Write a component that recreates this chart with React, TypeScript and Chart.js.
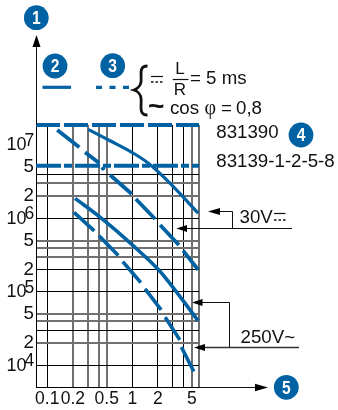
import React, { useEffect, useRef } from "react";
import { Chart, registerables } from "chart.js";

Chart.register(...registerables);

const xGrid = [0.1, 0.2, 0.3, 0.4, 0.5, 1, 2, 3, 4, 5, 6];
const xLabelled = [0.1, 0.2, 0.5, 1, 2, 5];
const xSoft = [0.2, 0.3, 0.4, 0.5, 5, 6];

const yGrid = [1e7, 4e6, 3e6, 2e6, 1e6, 5e5, 4e5, 3e5, 2e5, 1e5, 5e4, 4e4, 3e4, 2e4, 1e4];
const yTwoFive = [5e6, 2e6, 5e5, 2e5, 5e4, 2e4];
const yDecades = [7, 6, 5, 4];
const ySoft = [3e6, 2e6, 5e5, 4e5, 3e5, 5e4, 4e4, 2e4];

const topLimit = 1.873e7;
const fiveLevel = 5.2e6;

const curveAx = [0.301, 0.547, 1.03, 1.53, 2.78, 5.93];
const curveAy = [1.635e7, 1.144e7, 7.71e6, 5.69e6, 3.01e6, 1.18e6];

const curveBx = [0.131, 0.238, 0.25, 0.278, 0.406, 0.42, 0.44, 0.465, 0.5, 0.547, 0.984, 1.04, 1.1, 1.85, 2.0, 2.12, 3.52, 3.7, 3.95, 5.93];
const curveBy = [1.6e7, 9.3e6, null, 7.96e6, 5.69e6, null, 5.0e6, 4.57e6, null, 3.91e6, 2.15e6, null, 1.84e6, 9.84e5, null, 8.16e5, 4.36e5, null, 3.65e5, 2.0e5];

const curveCx = [0.212, 0.417, 1.03, 2.12, 2.63, 4.13, 5.93];
const curveCy = [1.88e6, 1.04e6, 4.23e5, 1.9e5, 1.4e5, 7.08e4, 4.03e4];

const curveDx = [0.206, 0.357, 0.38, 0.406, 0.684, 0.72, 0.771, 1.256, 1.33, 1.41, 2.18, 2.3, 2.43, 3.61, 3.7, 3.77, 5.27];
const curveDy = [1.21e6, 6.76e5, null, 5.83e5, 3.12e5, null, 2.58e5, 1.34e5, null, 1.1e5, 5.69e4, null, 4.53e4, 2.22e4, null, 1.77e4, 8.24e3];

const BLUE = "#0062a3";
const INK = "#111111";
const FONT = '"Liberation Sans", Arial, sans-serif';

const pairs = (xs: number[], ys: (number | null)[]) => xs.map((x, i) => ({ x, y: ys[i] }));

function text(ctx: CanvasRenderingContext2D, s: string, x: number, y: number, size = 18.7, align: CanvasTextAlign = "left", family = FONT, color = INK, weight = "") {
  ctx.font = `${weight} ${size}px ${family}`;
  ctx.fillStyle = color;
  ctx.textAlign = align;
  ctx.textBaseline = "middle";
  ctx.fillText(s, x, y);
}

function seg(ctx: CanvasRenderingContext2D, x1: number, y1: number, x2: number, y2: number, w = 1, color = INK, dash: number[] = []) {
  ctx.beginPath();
  ctx.setLineDash(dash);
  ctx.strokeStyle = color;
  ctx.lineWidth = w;
  ctx.moveTo(x1, y1);
  ctx.lineTo(x2, y2);
  ctx.stroke();
  ctx.setLineDash([]);
}

function head(ctx: CanvasRenderingContext2D, tipX: number, tipY: number, baseX: number, baseY: number, half: number) {
  const horizontal = tipY === baseY;
  ctx.beginPath();
  ctx.fillStyle = "#000";
  ctx.moveTo(tipX, tipY);
  if (horizontal) {
    ctx.lineTo(baseX, baseY - half);
    ctx.lineTo(baseX, baseY + half);
  } else {
    ctx.lineTo(baseX - half, baseY);
    ctx.lineTo(baseX + half, baseY);
  }
  ctx.closePath();
  ctx.fill();
}

function badge(ctx: CanvasRenderingContext2D, s: string, x: number, y: number) {
  ctx.beginPath();
  ctx.fillStyle = BLUE;
  ctx.arc(x, y, 12.4, 0, Math.PI * 2);
  ctx.fill();
  ctx.save();
  ctx.translate(x, y + 1);
  ctx.scale(0.82, 1);
  text(ctx, s, 0, 0, 19, "center", FONT, "#ffffff", "bold");
  ctx.restore();
}

const annotations = {
  id: "annotations",
  afterDraw(chart: any) {
    const ctx: CanvasRenderingContext2D = chart.ctx;
    const yScale = chart.scales.y;
    ctx.save();

    // axis extensions
    seg(ctx, 36.5, 125, 36.5, 45);
    head(ctx, 36.5, 35, 36.5, 47, 4);
    seg(ctx, 199, 387.5, 257, 387.5);
    head(ctx, 268, 387.5, 255, 387.5, 3.7);

    // decade labels
    yDecades.forEach((e) => {
      const py = yScale.getPixelForValue(Math.pow(10, e));
      text(ctx, "10", 6.5, py + 0.5, 18);
      text(ctx, String(e), 24.5, py - 4, 17.5);
    });

    // badges
    badge(ctx, "1", 36.3, 17.7);
    badge(ctx, "2", 55, 66);
    badge(ctx, "3", 112.7, 65.7);
    badge(ctx, "4", 301, 135);
    badge(ctx, "5", 286.3, 387.3);

    // key lines
    seg(ctx, 42.5, 87.3, 71, 87.3, 3.2, BLUE);
    seg(ctx, 96, 87.3, 129, 87.3, 3.2, BLUE, [6, 7.5]);

    // brace
    ctx.beginPath();
    ctx.strokeStyle = INK;
    ctx.lineWidth = 2.8;
    ctx.moveTo(147.5, 66);
    ctx.bezierCurveTo(138, 66, 142, 76, 141, 82);
    ctx.bezierCurveTo(140.5, 86, 137, 89, 134, 90);
    ctx.bezierCurveTo(137, 91, 140.5, 94, 141, 98);
    ctx.bezierCurveTo(142, 105, 138, 115, 147.5, 115);
    ctx.stroke();

    // direct-current note
    seg(ctx, 151, 76.5, 163, 76.5, 1.2);
    seg(ctx, 151, 82, 163, 82, 1.4, INK, [2.5, 2]);
    text(ctx, "L", 180, 69, 17, "center");
    seg(ctx, 172.7, 79.5, 188.5, 79.5, 1.2);
    text(ctx, "R", 180, 90.5, 17, "center");
    text(ctx, "= 5 ms", 190, 78.5);

    // alternating-current note
    text(ctx, "~", 148, 107, 28, "left", FONT, INK, "bold");
    text(ctx, "cos", 170, 108.5);
    text(ctx, "\u03c6", 204.5, 109, 20, "left", '"Liberation Serif", serif');
    text(ctx, "=", 221, 108.5);
    text(ctx, "0,8", 236, 108.5);

    // references
    text(ctx, "831390", 216.3, 132.5);
    text(ctx, "83139-1-2-5-8", 216.3, 162);

    // 30V
    seg(ctx, 185, 228.5, 292, 228.5);
    head(ctx, 176.5, 228.5, 187, 228.5, 3.5);
    seg(ctx, 218, 211.5, 232.5, 211.5);
    seg(ctx, 232.5, 211.5, 232.5, 228.5);
    head(ctx, 208, 211.5, 220, 211.5, 3.5);
    text(ctx, "30V", 239.5, 218);
    seg(ctx, 274, 213.5, 285.5, 213.5, 1.2);
    seg(ctx, 274, 220, 285.5, 220, 1.3, INK, [2.5, 2]);

    // 250V
    seg(ctx, 203, 347.5, 299, 347.5, 1.5, "#333");
    head(ctx, 194, 347.5, 205, 347.5, 3.5);
    seg(ctx, 201, 302.5, 229.5, 302.5);
    seg(ctx, 229.5, 302.5, 229.5, 347.5);
    head(ctx, 192, 302.5, 202.5, 302.5, 3.5);
    text(ctx, "250V~", 240.5, 338);

    ctx.restore();
  },
};

export default function App() {
  const ref = useRef<HTMLCanvasElement>(null);
  useEffect(() => {
    const curve = (xs: number[], ys: (number | null)[], w: number) => ({
      data: pairs(xs, ys),
      borderColor: BLUE,
      borderWidth: w,
      pointRadius: 0,
      cubicInterpolationMode: "monotone" as const,
      spanGaps: false,
      clip: false as const,
    });
    const chart = new Chart(ref.current!, {
      type: "line",
      data: {
        datasets: [
          curve(curveAx, curveAy, 3.2),
          curve(curveBx, curveBy, 3.8),
          curve(curveCx, curveCy, 3.6),
          curve(curveDx, curveDy, 3.6),
          { ...curve([0.0737, 6.07], [topLimit, topLimit], 4), borderDash: [24, 4] },
          { ...curve([0.0737, 6.07], [fiveLevel, fiveLevel], 4), borderDash: [25, 3, 8, 3] },
        ],
      },
      plugins: [annotations],
      options: {
        animation: false,
        responsive: false,
        parsing: { xAxisKey: "x", yAxisKey: "y" },
        layout: { padding: { left: 0, top: 125, right: 139, bottom: 0 } },
        plugins: { legend: { display: false }, tooltip: { enabled: false }, title: { display: false } },
        scales: {
          x: {
            type: "logarithmic",
            min: 0.0737,
            max: 6.07,
            afterBuildTicks: (s: any) => {
              s.ticks = xGrid.map((value) => ({ value }));
            },
            afterFit: (s: any) => {
              s.height = 23;
            },
            border: { display: true, color: "#000", width: 1 },
            grid: {
              drawTicks: false,
              color: (c: any) => (xSoft.includes(c.tick.value) ? "#707070" : "#000000"),
              lineWidth: (c: any) => (xSoft.includes(c.tick.value) ? 2 : 1),
            },
            ticks: {
              autoSkip: false,
              maxRotation: 0,
              padding: 2,
              color: INK,
              font: { family: FONT, size: 17.5 },
              callback: (v: any) => (xLabelled.includes(Number(v)) ? String(v) : ""),
            },
          },
          y: {
            type: "logarithmic",
            min: 5070,
            max: topLimit,
            afterBuildTicks: (s: any) => {
              s.ticks = [...yGrid, 5e6].map((value) => ({ value }));
            },
            afterFit: (s: any) => {
              s.width = 36;
            },
            border: { display: true, color: "#000", width: 1 },
            grid: {
              drawTicks: false,
              color: (c: any) => {
                const v = c.tick.value;
                if (v === 1e7 || v === 5e6) return "rgba(0,0,0,0)";
                return ySoft.includes(v) ? "#707070" : "#000000";
              },
              lineWidth: (c: any) => (ySoft.includes(c.tick.value) ? 2 : 1),
            },
            ticks: {
              autoSkip: false,
              padding: 2,
              color: INK,
              font: { family: FONT, size: 18.7 },
              callback: (v: any) => {
                const n = Number(v);
                if (!yTwoFive.includes(n)) return "";
                return String(n).charAt(0);
              },
            },
          },
        },
      },
    } as any);
    return () => chart.destroy();
  }, []);
  return (
    <div style={{ position: "absolute", left: 0, top: 0, width: 338, height: 410, background: "#fff" }}>
      <canvas ref={ref} width={338} height={410} style={{ display: "block" }} />
    </div>
  );
}
